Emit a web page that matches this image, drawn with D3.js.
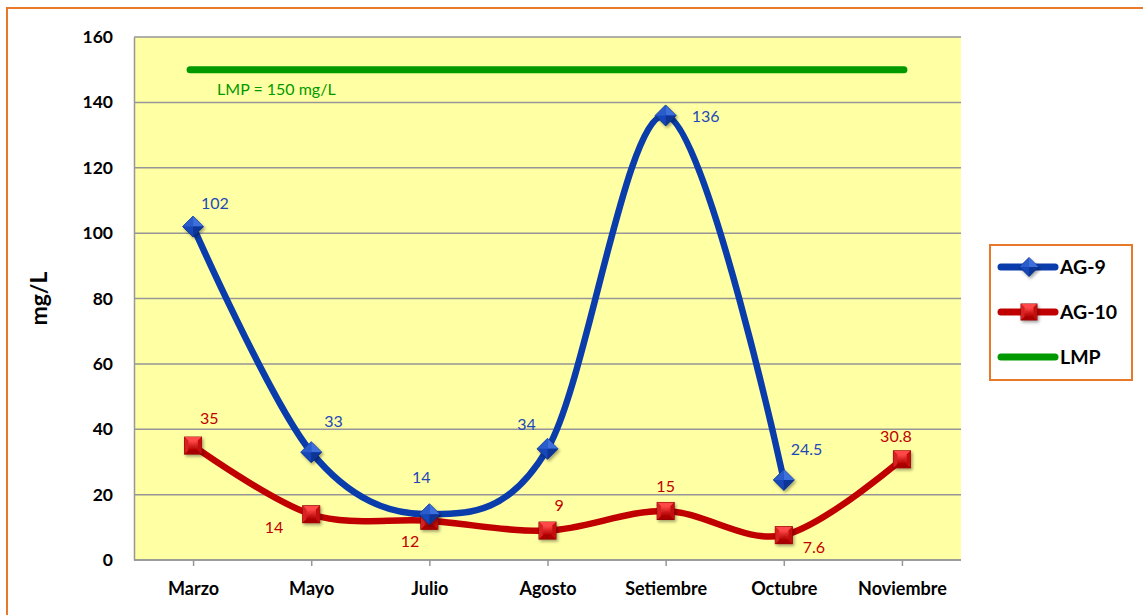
<!DOCTYPE html>
<html><head><meta charset="utf-8">
<script src="https://cdn.jsdelivr.net/npm/d3@7"></script>
<style>
html,body{margin:0;padding:0;background:#fff;}
svg{display:block;font-family:Lato,"Open Sans",sans-serif;}
</style></head>
<body>
<svg id="chart" width="1143" height="615"></svg>
<script>
const categories = ["Marzo","Mayo","Julio","Agosto","Setiembre","Octubre","Noviembre"];
const ag9 = [102, 33, 14, 34, 136, 24.5, null];
const ag10 = [35, 14, 12, 9, 15, 7.6, 30.8];
const lmpValue = 150;
const yTicks = [0,20,40,60,80,100,120,140,160];
const ag9Labels = ["102","33","14","34","136","24.5",""];
const ag10Labels = ["35","14","12","9","15","7.6","30.8"];
const seriesNames = ["AG-9","AG-10","LMP"];

// label placement (dx, dy, anchor) relative to marker
const ag9LabelPos = [[8,-18,"start"],[13,-25,"start"],[-8,-31,"middle"],[-21,-19,"middle"],[26,7,"start"],[7,-25,"start"],null];
const ag10LabelPos = [[7,-22,"start"],[-28,19,"end"],[-10,26,"end"],[7,-20,"start"],[0,-19,"middle"],[19,18,"start"],[-6,-17,"middle"]];

const svg = d3.select("#chart");
const L = 134, R = 961, T = 37, B = 560;
const BLUE = "#0A3DAB", RED = "#C00000", GREEN = "#009A00";
const BLUE_T = "#1F49B8", RED_T = "#C00000";

// outer frame
svg.append("rect").attr("x",7).attr("y",8).attr("width",1160).attr("height",640)
  .attr("fill","#fff").attr("stroke","#E8792B").attr("stroke-width",2);

const x = d3.scalePoint().domain(categories).range([L,R]).padding(0.5);
const y = d3.scaleLinear().domain([0,160]).range([B,T]);

// defs
const defs = svg.append("defs");
const gRed = defs.append("linearGradient").attr("id","gRed").attr("x1",0).attr("y1",0).attr("x2",0).attr("y2",1);
gRed.append("stop").attr("offset","0").attr("stop-color","#FF4848");
gRed.append("stop").attr("offset","1").attr("stop-color","#B00000");
const sh = defs.append("filter").attr("id","sh").attr("x","-50%").attr("y","-50%").attr("width","200%").attr("height","200%");
sh.append("feDropShadow").attr("dx",1.5).attr("dy",2).attr("stdDeviation",1.5).attr("flood-color","#000").attr("flood-opacity",0.35);

// plot area
svg.append("rect").attr("x",L).attr("y",T).attr("width",R-L).attr("height",B-T).attr("fill","#FFFFA3");

// gridlines
svg.append("g").selectAll("line").data(yTicks).join("line")
  .attr("x1",L).attr("x2",R).attr("y1",d=>y(d)).attr("y2",d=>y(d))
  .attr("stroke","#969696").attr("stroke-width",1.5);

// y axis
const yAxis = d3.axisLeft(y).tickValues(yTicks).tickSize(0).tickPadding(21);
const gy = svg.append("g").attr("transform",`translate(${L},0)`).call(yAxis);
gy.select(".domain").attr("stroke","#969696").attr("stroke-width",1.5);
gy.selectAll("text").attr("font-size",17.5).attr("font-weight","bold").attr("fill","#000").attr("font-family","Lato,sans-serif");

// x axis
const xAxis = d3.axisBottom(x).tickSize(6).tickPadding(16);
const gx = svg.append("g").attr("transform",`translate(0,${B})`).call(xAxis);
gx.select(".domain").attr("stroke","#969696").attr("stroke-width",1.5).attr("d",`M${L},0H${R}`);
gx.selectAll(".tick line").attr("stroke","#969696").attr("stroke-width",1.5);
gx.selectAll("text").attr("font-size",18).attr("font-weight","bold").attr("fill","#000").attr("font-family","Lato,sans-serif");

// y title
svg.append("text").attr("transform",`translate(47,${(T+B)/2}) rotate(-90)`)
  .attr("text-anchor","middle").attr("font-size",23).attr("font-weight","bold").text("mg/L");

// LMP line
svg.append("line").attr("x1",x("Marzo")-3).attr("x2",x("Noviembre")+2)
  .attr("y1",y(lmpValue)).attr("y2",y(lmpValue))
  .attr("stroke",GREEN).attr("stroke-width",7).attr("stroke-linecap","round");
svg.append("text").attr("x",x("Marzo")+24).attr("y",y(lmpValue)+25)
  .attr("fill",GREEN).attr("font-size",16).text("LMP = " + lmpValue + " mg/L");

const curve = d3.curveCatmullRom.alpha(0);
function pts(vals){ return categories.map((c,i)=>({c,v:vals[i],i})).filter(d=>d.v!=null); }
const line = d3.line().x(d=>x(d.c)).y(d=>y(d.v)).curve(curve);

svg.append("path").datum(pts(ag10)).attr("d",line).attr("fill","none")
  .attr("stroke",RED).attr("stroke-width",6.5).attr("stroke-linecap","round");
svg.append("path").datum(pts(ag9)).attr("d",line).attr("fill","none")
  .attr("stroke",BLUE).attr("stroke-width",6.5).attr("stroke-linecap","round");

function diamond(g, cx, cy, r){
  const m = g.append("g").attr("transform",`translate(${cx},${cy})`).attr("filter","url(#sh)");
  m.append("path").attr("d",`M0,${-r}L${r},0L0,${r}L${-r},0Z`).attr("fill","#1747B8").attr("stroke","#0A2A80").attr("stroke-width",0.8);
  m.append("path").attr("d",`M0,${-r}L${r},0L0,0Z`).attr("fill","#3D6FDB");
  m.append("path").attr("d",`M0,${-r}L${-r},0L0,0Z`).attr("fill","#2A5CCB");
  m.append("path").attr("d",`M0,${r}L${r},0L0,0Z`).attr("fill","#0E3596");
}
function square(g, cx, cy, s){
  const h = s/2, k = s*0.22;
  const m = g.append("g").attr("transform",`translate(${cx},${cy})`).attr("filter","url(#sh)");
  m.append("rect").attr("x",-h).attr("y",-h).attr("width",s).attr("height",s).attr("fill","#D01515").attr("stroke","#8A0000").attr("stroke-width",1);
  m.append("path").attr("d",`M${-h},${-h}L${h},${-h}L0,0Z`).attr("fill","#FF4A4A");
  m.append("path").attr("d",`M${-h},${h}L${h},${h}L0,0Z`).attr("fill","#A80000");
  m.append("path").attr("d",`M${-h},${-h}L${-h},${h}L0,0Z`).attr("fill","#D82020");
  m.append("path").attr("d",`M${h},${-h}L${h},${h}L0,0Z`).attr("fill","#C41010");
  m.append("rect").attr("x",-h+k).attr("y",-h+k).attr("width",s-2*k).attr("height",s-2*k).attr("fill","url(#gRed)").attr("opacity",0.9);
}

const mk = svg.append("g");
pts(ag10).forEach(d=>square(mk, x(d.c), y(d.v), 17));
pts(ag9).forEach(d=>diamond(mk, x(d.c), y(d.v), 10.5));

// data labels
const lab = svg.append("g").attr("font-size",16);
pts(ag9).forEach(d=>{
  const p = ag9LabelPos[d.i];
  lab.append("text").attr("x",x(d.c)+p[0]).attr("y",y(d.v)+p[1]).attr("text-anchor",p[2])
    .attr("fill",BLUE_T).text(ag9Labels[d.i]);
});
pts(ag10).forEach(d=>{
  const p = ag10LabelPos[d.i];
  lab.append("text").attr("x",x(d.c)+p[0]).attr("y",y(d.v)+p[1]).attr("text-anchor",p[2])
    .attr("fill",RED_T).text(ag10Labels[d.i]);
});

// legend
const lg = svg.append("g");
lg.append("rect").attr("x",990).attr("y",245).attr("width",142).attr("height",135)
  .attr("fill","#fff").attr("stroke","#E8792B").attr("stroke-width",2);
const lgColors = [BLUE, RED, GREEN];
seriesNames.forEach((n,i)=>{
  const yy = 267 + i*45;
  lg.append("line").attr("x1",1001).attr("x2",1055).attr("y1",yy).attr("y2",yy)
    .attr("stroke",lgColors[i]).attr("stroke-width",7).attr("stroke-linecap","round");
  if(i===0) diamond(lg, 1029, yy, 9.5);
  if(i===1) square(lg, 1029, yy, 16);
  lg.append("text").attr("x",1060).attr("y",yy).attr("dy","0.35em")
    .attr("font-size",19.5).attr("font-weight","bold").text(n);
});
</script>
</body></html>
